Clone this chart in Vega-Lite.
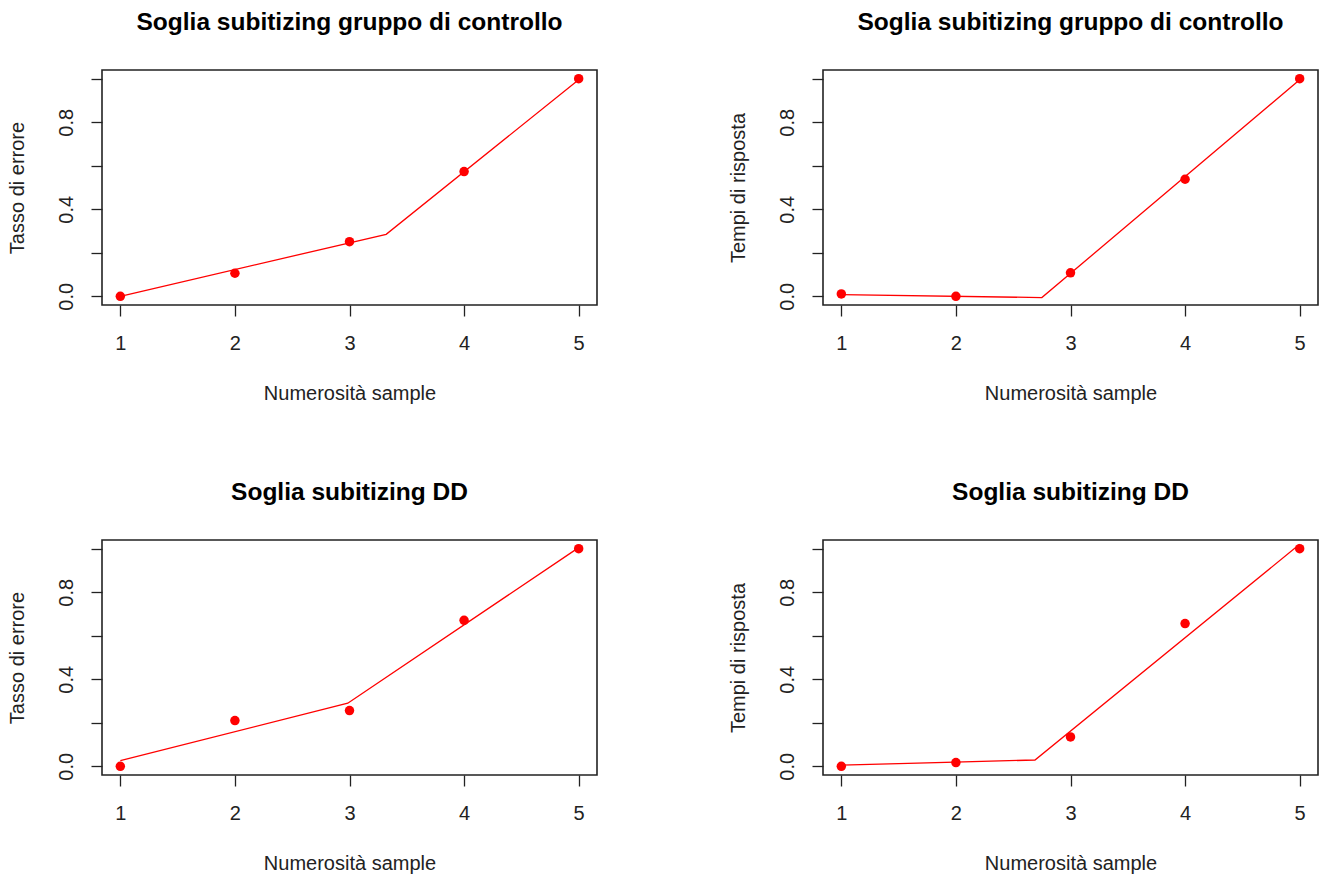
{
  "$schema": "https://vega.github.io/schema/vega-lite/v6.json",
  "autosize": {"type": "pad"},
  "padding": {"left": 6, "top": 8, "right": 4, "bottom": 4},
  "background": "white",
  "datasets": {
    "points": [
      {"panel": "A", "x": 1, "y": 0.0},
      {"panel": "A", "x": 2, "y": 0.106},
      {"panel": "A", "x": 3, "y": 0.251},
      {"panel": "A", "x": 4, "y": 0.573},
      {"panel": "A", "x": 5, "y": 1.0},
      {"panel": "B", "x": 1, "y": 0.011},
      {"panel": "B", "x": 2, "y": 0.0},
      {"panel": "B", "x": 3, "y": 0.108},
      {"panel": "B", "x": 4, "y": 0.538},
      {"panel": "B", "x": 5, "y": 1.0},
      {"panel": "C", "x": 1, "y": 0.0},
      {"panel": "C", "x": 2, "y": 0.21},
      {"panel": "C", "x": 3, "y": 0.256},
      {"panel": "C", "x": 4, "y": 0.671},
      {"panel": "C", "x": 5, "y": 1.0},
      {"panel": "D", "x": 1, "y": 0.0},
      {"panel": "D", "x": 2, "y": 0.017},
      {"panel": "D", "x": 3, "y": 0.135},
      {"panel": "D", "x": 4, "y": 0.656},
      {"panel": "D", "x": 5, "y": 1.0}
    ],
    "fits": [
      {"panel": "A", "x": 1, "y": 0.0},
      {"panel": "A", "x": 3.32, "y": 0.285},
      {"panel": "A", "x": 5, "y": 0.995},
      {"panel": "B", "x": 1, "y": 0.008},
      {"panel": "B", "x": 2.75, "y": -0.006},
      {"panel": "B", "x": 5, "y": 0.995},
      {"panel": "C", "x": 1, "y": 0.026},
      {"panel": "C", "x": 2.985, "y": 0.29},
      {"panel": "C", "x": 5, "y": 1.005},
      {"panel": "D", "x": 1, "y": 0.005},
      {"panel": "D", "x": 2.69, "y": 0.029},
      {"panel": "D", "x": 5, "y": 1.02}
    ]
  },
  "columns": 2,
  "spacing": {"column": 226, "row": 235},
  "bounds": "flush",
  "concat": [
    {
      "title": "Soglia subitizing gruppo di controllo",
      "width": 495, "height": 235,
      "layer": [
        {
          "data": {"name": "fits"},
          "transform": [{"filter": "datum.panel == 'A'"}],
          "mark": {"type": "line", "color": "#ff0000", "strokeWidth": 1.3},
          "encoding": {
            "x": {"field": "x", "type": "quantitative", "scale": {"domain": [0.84, 5.16], "nice": false, "zero": false}, "axis": {"values": [1, 2, 3, 4, 5], "format": "d", "title": "Numerosità sample"}},
            "y": {"field": "y", "type": "quantitative", "scale": {"domain": [-0.04, 1.04], "nice": false, "zero": false}, "axis": {"values": [0, 0.2, 0.4, 0.6, 0.8, 1.0], "labelExpr": "(datum.value == 0 || datum.value == 0.4 || datum.value == 0.8) ? format(datum.value, '.1f') : ''", "title": "Tasso di errore"}}
          }
        },
        {
          "data": {"name": "points"},
          "transform": [{"filter": "datum.panel == 'A'"}],
          "mark": {"type": "point", "filled": true, "color": "#ff0000", "opacity": 1, "size": 90},
          "encoding": {
            "x": {"field": "x", "type": "quantitative"},
            "y": {"field": "y", "type": "quantitative"}
          }
        }
      ]
    },
    {
      "title": "Soglia subitizing gruppo di controllo",
      "width": 495, "height": 235,
      "layer": [
        {
          "data": {"name": "fits"},
          "transform": [{"filter": "datum.panel == 'B'"}],
          "mark": {"type": "line", "color": "#ff0000", "strokeWidth": 1.3},
          "encoding": {
            "x": {"field": "x", "type": "quantitative", "scale": {"domain": [0.84, 5.16], "nice": false, "zero": false}, "axis": {"values": [1, 2, 3, 4, 5], "format": "d", "title": "Numerosità sample"}},
            "y": {"field": "y", "type": "quantitative", "scale": {"domain": [-0.04, 1.04], "nice": false, "zero": false}, "axis": {"values": [0, 0.2, 0.4, 0.6, 0.8, 1.0], "labelExpr": "(datum.value == 0 || datum.value == 0.4 || datum.value == 0.8) ? format(datum.value, '.1f') : ''", "title": "Tempi di risposta"}}
          }
        },
        {
          "data": {"name": "points"},
          "transform": [{"filter": "datum.panel == 'B'"}],
          "mark": {"type": "point", "filled": true, "color": "#ff0000", "opacity": 1, "size": 90},
          "encoding": {
            "x": {"field": "x", "type": "quantitative"},
            "y": {"field": "y", "type": "quantitative"}
          }
        }
      ]
    },
    {
      "title": "Soglia subitizing DD",
      "width": 495, "height": 235,
      "layer": [
        {
          "data": {"name": "fits"},
          "transform": [{"filter": "datum.panel == 'C'"}],
          "mark": {"type": "line", "color": "#ff0000", "strokeWidth": 1.3},
          "encoding": {
            "x": {"field": "x", "type": "quantitative", "scale": {"domain": [0.84, 5.16], "nice": false, "zero": false}, "axis": {"values": [1, 2, 3, 4, 5], "format": "d", "title": "Numerosità sample"}},
            "y": {"field": "y", "type": "quantitative", "scale": {"domain": [-0.04, 1.04], "nice": false, "zero": false}, "axis": {"values": [0, 0.2, 0.4, 0.6, 0.8, 1.0], "labelExpr": "(datum.value == 0 || datum.value == 0.4 || datum.value == 0.8) ? format(datum.value, '.1f') : ''", "title": "Tasso di errore"}}
          }
        },
        {
          "data": {"name": "points"},
          "transform": [{"filter": "datum.panel == 'C'"}],
          "mark": {"type": "point", "filled": true, "color": "#ff0000", "opacity": 1, "size": 90},
          "encoding": {
            "x": {"field": "x", "type": "quantitative"},
            "y": {"field": "y", "type": "quantitative"}
          }
        }
      ]
    },
    {
      "title": "Soglia subitizing DD",
      "width": 495, "height": 235,
      "layer": [
        {
          "data": {"name": "fits"},
          "transform": [{"filter": "datum.panel == 'D'"}],
          "mark": {"type": "line", "color": "#ff0000", "strokeWidth": 1.3},
          "encoding": {
            "x": {"field": "x", "type": "quantitative", "scale": {"domain": [0.84, 5.16], "nice": false, "zero": false}, "axis": {"values": [1, 2, 3, 4, 5], "format": "d", "title": "Numerosità sample"}},
            "y": {"field": "y", "type": "quantitative", "scale": {"domain": [-0.04, 1.04], "nice": false, "zero": false}, "axis": {"values": [0, 0.2, 0.4, 0.6, 0.8, 1.0], "labelExpr": "(datum.value == 0 || datum.value == 0.4 || datum.value == 0.8) ? format(datum.value, '.1f') : ''", "title": "Tempi di risposta"}}
          }
        },
        {
          "data": {"name": "points"},
          "transform": [{"filter": "datum.panel == 'D'"}],
          "mark": {"type": "point", "filled": true, "color": "#ff0000", "opacity": 1, "size": 90},
          "encoding": {
            "x": {"field": "x", "type": "quantitative"},
            "y": {"field": "y", "type": "quantitative"}
          }
        }
      ]
    }
  ],
  "config": {
    "view": {"stroke": "#222222", "strokeWidth": 1.6},
    "axis": {
      "domain": false,
      "grid": false,
      "ticks": true,
      "tickColor": "#222222",
      "tickWidth": 1.3,
      "tickSize": 11,
      "labelFont": "Liberation Sans",
      "labelFontSize": 20,
      "labelColor": "#222222",
      "labelFlush": false,
      "labelOverlap": false,
      "titleFont": "Liberation Sans",
      "titleFontSize": 20,
      "titleFontWeight": "normal",
      "titleColor": "#222222"
    },
    "axisX": {"labelPadding": 17, "titlePadding": 30, "labelAngle": 0},
    "axisY": {"labelAngle": 270, "labelAlign": "center", "labelBaseline": "alphabetic", "labelPadding": 19, "titlePadding": 29},
    "title": {"font": "Liberation Sans", "fontSize": 24.5, "fontWeight": "bold", "color": "#000000", "baseline": "alphabetic", "offset": 35, "anchor": "middle", "frame": "group"}
  }
}
